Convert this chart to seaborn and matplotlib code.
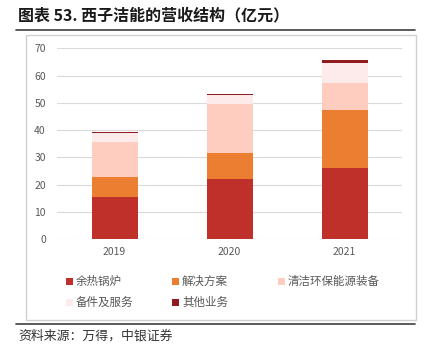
import matplotlib
matplotlib.use("Agg")
import matplotlib.pyplot as plt
import seaborn as sns
import pandas as pd
import numpy as np
from matplotlib.patches import Rectangle
from matplotlib.lines import Line2D

years = ["2019", "2020", "2021"]
series_names = ["余热锅炉", "解决方案", "清洁环保能源装备", "备件及服务", "其他业务"]
boiler = [15.5, 22.0, 26.2]
solution = [7.1, 9.5, 21.0]
clean_energy = [13.0, 17.9, 10.2]
spare_parts = [3.2, 3.5, 7.2]
other = [0.4, 0.4, 1.1]
yticks = [0, 10, 20, 30, 40, 50, 60, 70]

colors = ["#C0302A", "#EC7E31", "#FFCCC0", "#FCEBEA", "#8E1B1E"]

sns.set_theme(style="white")
plt.rcParams["font.family"] = ["Noto Sans CJK SC", "DejaVu Sans"]

W, H = 431, 356
fig = plt.figure(figsize=(W / 100, H / 100), dpi=100)

def fx(px):
    return px / W

def fy(py):
    return 1 - py / H

ax = fig.add_axes([fx(57), fy(239), fx(402) - fx(57), fy(48.3) - fy(239)])

values = [boiler, solution, clean_energy, spare_parts, other]
cum = np.cumsum(np.array(values), axis=0)
df = pd.DataFrame({"year": years})
for i in range(len(series_names) - 1, -1, -1):
    df["v"] = cum[i]
    sns.barplot(data=df, x="year", y="v", color=colors[i], width=0.4,
                saturation=1, ax=ax, linewidth=0, zorder=3)

ax.set_ylim(0, 70)
ax.set_xlim(-0.5, 2.5)
ax.set_yticks(yticks)
ax.set_yticklabels([str(t) for t in yticks])
ax.set_xlabel("")
ax.set_ylabel("")
for s in ax.spines.values():
    s.set_visible(False)
ax.yaxis.grid(True, color="#D9D9D9", linewidth=0.8, zorder=0)
ax.set_axisbelow(True)
ax.tick_params(axis="both", length=0, labelsize=7.5, colors="#595959")
ax.tick_params(axis="y", pad=8)
ax.tick_params(axis="x", pad=6)

# outer frame around chart area
fig.patches.append(Rectangle((fx(26), fy(320)), fx(416) - fx(26), fy(35) - fy(320),
                             transform=fig.transFigure, fill=False,
                             edgecolor="#D0D0D0", linewidth=1.0, zorder=0))
# horizontal rule lines
fig.lines.append(Line2D([fx(16), fx(415)], [fy(30), fy(30)], transform=fig.transFigure,
                        color="#404040", linewidth=1.2))
fig.lines.append(Line2D([fx(16), fx(415)], [fy(324), fy(324)], transform=fig.transFigure,
                        color="#404040", linewidth=1.2))

fig.text(fx(18), fy(15), "图表 53. 西子洁能的营收结构（亿元）", fontsize=11.5,
         fontweight="bold", color="#1a1a1a", va="center", ha="left")
fig.text(fx(18), fy(336), "资料来源：万得，中银证券", fontsize=9.3, style="italic",
         color="#333333", va="center", ha="left")

# legend
leg_pos = [(66, 281), (172, 281), (278, 281), (66, 302), (172, 302)]
sq = 7
for (lx, ly), name, c in zip(leg_pos, series_names, colors):
    fig.patches.append(Rectangle((fx(lx), fy(ly + sq / 2)), fx(sq), fy(0) - fy(sq),
                                 transform=fig.transFigure, facecolor=c,
                                 edgecolor="none"))
    fig.text(fx(lx + sq + 3), fy(ly), name, fontsize=8.3, color="#595959",
             va="center", ha="left")

fig.savefig("out.png", dpi=100)
